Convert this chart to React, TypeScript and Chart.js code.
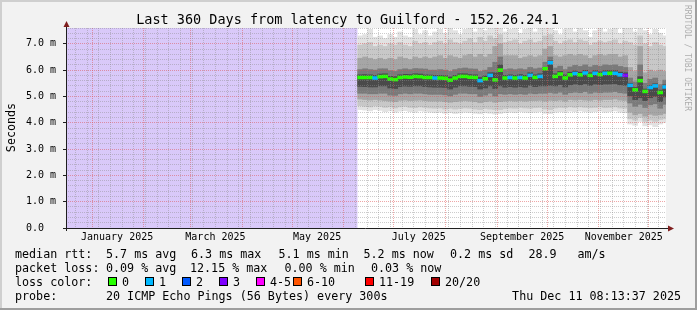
import { useEffect, useRef } from 'react';
import { Chart, registerables } from 'chart.js';

Chart.register(...registerables);

// ---------- time axis ----------
const DAY_MS = 86400000;
const GRAPH_END = Date.UTC(2025, 11, 11, 8, 13, 37);
const SPAN_DAYS = 360;
const GRAPH_START = GRAPH_END - SPAN_DAYS * DAY_MS;
const dayOf = (y: number, m: number, d: number) => (Date.UTC(y, m, d) - GRAPH_START) / DAY_MS;

const Y_MAX = 7.6;
const Y_STEP = 0.2;

// ---------- texts ----------
const titleText = 'Last 360 Days from latency to Guilford - 152.26.24.1';
const yAxisTitle = 'Seconds';
const watermarkText = 'RRDTOOL / TOBI OETIKER';
const yTickLabels = ['0.0  ', '1.0 m', '2.0 m', '3.0 m', '4.0 m', '5.0 m', '6.0 m', '7.0 m'];
const xLabelMonths: [number, number, string][] = [
  [2025, 0, 'January 2025'],
  [2025, 2, 'March 2025'],
  [2025, 4, 'May 2025'],
  [2025, 6, 'July 2025'],
  [2025, 8, 'September 2025'],
  [2025, 10, 'November 2025'],
];
const lossLabels = ['0', '1', '2', '3', '4-5', '6-10', '11-19', '20/20'];
const lossColors = ['#26ff00', '#00b8ff', '#0059ff', '#7e00ff', '#ff00ff', '#ff5500', '#ff0000', '#a10000'];
const rttStats = ['5.7 ms avg', '6.3 ms max', '5.1 ms min', '5.2 ms now', '0.2 ms sd', '28.9', 'am/s'];
const lossStats = ['0.09 % avg', '12.15 % max', '0.00 % min', '0.03 % now'];
const probeText = '20 ICMP Echo Pings (56 Bytes) every 300s';
const stampText = 'Thu Dec 11 08:13:37 2025';

// ---------- data (ms), one value per 3-day bucket ----------
const unknownSpan = [0, 175];
const bucketStartDay = 175;
const bucketDays = 3;

const median = [
  5.72, 5.72, 5.72, 5.70, 5.75, 5.76, 5.66, 5.64, 5.72, 5.74, 5.73, 5.76, 5.75, 5.72, 5.72,
  5.70, 5.70, 5.69, 5.62, 5.70, 5.76, 5.76, 5.73, 5.72, 5.60, 5.67, 5.80, 5.63, 6.00, 5.70, 5.72,
  5.70, 5.72, 5.70, 5.80, 5.72, 5.76, 6.05, 6.28, 5.76, 5.85, 5.70, 5.82, 5.87, 5.82, 5.89,
  5.80, 5.88, 5.83, 5.88, 5.88, 5.88, 5.82, 5.80, 5.42, 5.25, 5.60, 5.19, 5.34, 5.40, 5.15, 5.36,
];
const lossIndex = [
  0, 0, 0, 1, 0, 0, 0, 0, 0, 0, 0, 0, 0, 0, 0,
  1, 0, 0, 0, 0, 0, 0, 0, 0, 1, 0, 1, 0, 0, 0, 1,
  0, 1, 0, 1, 0, 1, 0, 1, 0, 0, 0, 0, 1, 0, 1,
  0, 1, 0, 1, 0, 1, 1, 3, 1, 0, 0, 0, 1, 1, 0, 1,
];
const smoke1High = [
  7.30, 7.35, 7.55, 7.25, 7.30, 7.20, 7.35, 7.25, 7.45, 7.30, 7.25, 7.55, 7.35, 7.50, 7.30,
  7.45, 7.55, 7.40, 7.60, 7.50, 7.35, 7.55, 7.60, 7.45, 7.60, 7.50, 7.60, 7.60, 7.60, 7.45, 7.55,
  7.60, 7.40, 7.55, 7.60, 7.45, 7.60, 7.60, 7.60, 7.50, 7.35, 7.55, 7.60, 7.45, 7.60, 7.50,
  7.25, 7.50, 7.60, 7.45, 7.55, 7.60, 7.40, 7.60, 7.60, 7.45, 7.60, 7.50, 7.35, 7.55, 7.40, 7.30,
];
const smoke1Low = [
  4.50, 4.48, 4.45, 4.50, 4.47, 4.42, 4.45, 4.40, 4.44, 4.46, 4.42, 4.40, 4.45, 4.43, 4.40,
  4.38, 4.40, 4.36, 4.38, 4.35, 4.37, 4.40, 4.38, 4.36, 4.34, 4.38, 4.36, 4.33, 4.35, 4.38, 4.40,
  4.38, 4.42, 4.40, 4.38, 4.40, 4.42, 4.36, 4.35, 4.40, 4.42, 4.40, 4.44, 4.42, 4.45, 4.42,
  4.40, 4.42, 4.44, 4.40, 4.42, 4.45, 4.40, 4.38, 3.95, 3.90, 4.05, 3.88, 3.92, 3.85, 3.95, 4.00,
];
const smoke2High = [
  6.95, 7.00, 7.05, 6.90, 6.95, 6.90, 7.00, 6.95, 7.05, 6.95, 6.90, 7.10, 7.00, 7.05, 6.95,
  7.05, 7.10, 7.00, 7.15, 7.05, 7.00, 7.10, 7.20, 7.05, 7.25, 7.10, 7.30, 7.20, 7.35, 7.05, 7.10,
  7.15, 7.00, 7.10, 7.15, 7.05, 7.10, 7.30, 7.35, 7.10, 7.00, 7.10, 7.15, 7.05, 7.15, 7.10,
  6.95, 7.05, 7.10, 7.05, 7.10, 7.15, 7.00, 7.10, 7.05, 6.95, 7.30, 7.00, 6.90, 7.05, 6.95, 6.90,
];
const smoke2Low = [
  4.65, 4.62, 4.60, 4.64, 4.62, 4.58, 4.60, 4.56, 4.60, 4.62, 4.58, 4.57, 4.60, 4.58, 4.56,
  4.55, 4.56, 4.52, 4.55, 4.52, 4.54, 4.56, 4.55, 4.52, 4.50, 4.54, 4.52, 4.50, 4.50, 4.54, 4.56,
  4.55, 4.58, 4.56, 4.55, 4.57, 4.58, 4.52, 4.50, 4.56, 4.58, 4.57, 4.60, 4.58, 4.60, 4.58,
  4.57, 4.58, 4.60, 4.57, 4.58, 4.60, 4.56, 4.55, 4.15, 4.10, 4.20, 4.05, 4.10, 4.05, 4.12, 4.15,
];
const smoke3High = [
  6.45, 6.50, 6.45, 6.40, 6.45, 6.40, 6.45, 6.40, 6.50, 6.45, 6.40, 6.50, 6.45, 6.50, 6.45,
  6.50, 6.55, 6.45, 6.55, 6.50, 6.45, 6.55, 6.60, 6.50, 6.60, 6.50, 6.60, 6.90, 7.00, 6.55, 6.55,
  6.55, 6.45, 6.50, 6.55, 6.50, 6.55, 6.80, 6.90, 6.55, 6.50, 6.55, 6.60, 6.55, 6.60, 6.55,
  6.45, 6.55, 6.60, 6.55, 6.60, 6.60, 6.50, 6.55, 6.10, 5.95, 6.90, 5.90, 6.00, 5.95, 6.00, 5.95,
];
const smoke3Low = [
  4.90, 4.88, 4.86, 4.88, 4.86, 4.84, 4.82, 4.80, 4.85, 4.86, 4.84, 4.85, 4.86, 4.84, 4.82,
  4.82, 4.82, 4.80, 4.78, 4.80, 4.82, 4.84, 4.82, 4.80, 4.76, 4.80, 4.82, 4.78, 4.80, 4.82, 4.84,
  4.82, 4.84, 4.82, 4.84, 4.84, 4.85, 4.82, 4.85, 4.84, 4.86, 4.82, 4.88, 4.86, 4.88, 4.86,
  4.85, 4.88, 4.86, 4.88, 4.88, 4.90, 4.86, 4.85, 4.40, 4.30, 4.35, 4.25, 4.32, 4.28, 4.30, 4.35,
];
const smoke4High = [
  6.02, 6.05, 6.02, 6.00, 6.05, 6.05, 5.98, 5.95, 6.02, 6.05, 6.02, 6.06, 6.05, 6.04, 6.00,
  6.00, 6.02, 6.00, 5.95, 6.02, 6.06, 6.08, 6.05, 6.04, 5.95, 6.00, 6.10, 6.30, 6.50, 6.02, 6.05,
  6.02, 6.05, 6.02, 6.10, 6.05, 6.08, 6.30, 6.50, 6.08, 6.15, 6.02, 6.12, 6.18, 6.14, 6.20,
  6.12, 6.18, 6.15, 6.20, 6.18, 6.20, 6.14, 6.10, 5.70, 5.55, 6.20, 5.50, 5.65, 5.70, 5.45, 5.62,
];
const smoke4Low = [
  5.12, 5.12, 5.10, 5.10, 5.12, 5.12, 5.05, 5.04, 5.10, 5.12, 5.10, 5.12, 5.12, 5.10, 5.08,
  5.08, 5.08, 5.06, 5.02, 5.08, 5.12, 5.12, 5.10, 5.10, 5.00, 5.05, 5.12, 5.02, 5.10, 5.08, 5.10,
  5.08, 5.10, 5.08, 5.12, 5.10, 5.12, 5.12, 5.15, 5.12, 5.16, 5.08, 5.14, 5.16, 5.14, 5.18,
  5.12, 5.16, 5.14, 5.16, 5.16, 5.18, 5.14, 5.12, 4.75, 4.62, 4.70, 4.58, 4.68, 4.72, 4.55, 4.70,
];
const smoke5High = [
  5.82, 5.83, 5.82, 5.80, 5.85, 5.86, 5.76, 5.75, 5.82, 5.84, 5.83, 5.86, 5.85, 5.82, 5.81,
  5.80, 5.80, 5.79, 5.74, 5.80, 5.86, 5.86, 5.83, 5.82, 5.72, 5.78, 5.90, 5.90, 6.20, 5.80, 5.82,
  5.80, 5.83, 5.80, 5.90, 5.82, 5.86, 6.10, 6.35, 5.86, 5.95, 5.82, 5.92, 5.97, 5.92, 5.99,
  5.90, 5.98, 5.93, 5.98, 5.98, 5.98, 5.92, 5.90, 5.50, 5.34, 5.75, 5.28, 5.42, 5.48, 5.24, 5.44,
];
const smoke5Low = [
  5.38, 5.37, 5.36, 5.36, 5.40, 5.40, 5.32, 5.30, 5.37, 5.39, 5.38, 5.40, 5.40, 5.37, 5.36,
  5.35, 5.35, 5.34, 5.28, 5.35, 5.40, 5.40, 5.38, 5.37, 5.28, 5.32, 5.40, 5.30, 5.40, 5.35, 5.37,
  5.35, 5.37, 5.35, 5.42, 5.37, 5.40, 5.40, 5.42, 5.40, 5.45, 5.36, 5.44, 5.47, 5.44, 5.48,
  5.42, 5.47, 5.45, 5.47, 5.47, 5.48, 5.44, 5.42, 5.02, 4.88, 4.95, 4.84, 4.95, 5.00, 4.80, 4.98,
];

// ---------- styles ----------
const MONO = 'DejaVu Sans Mono';
const BACK = '#f2f2f2';
const CANVAS = '#ffffff';
const SHADEA = '#cfcfcf';
const SHADEB = '#9e9e9e';
const GRID = 'rgba(143,143,143,0.45)';
const MGRID = 'rgba(222,79,79,0.5)';
const ARROW = '#801f1f';
const AXIS = '#1f1f1f';
const UNKNOWN_COLOR = '#d9c9f9';
const smokeColors = ['#e2e2e2', '#c8c8c8', '#a6a6a6', '#7a7a7a', '#4a4a4a'];
const MEDIAN_HALF = 0.055;

type XTick = { value: number; grid: 'minor' | 'major' | 'none'; label: string };
function buildXTicks(): XTick[] {
  const map = new Map<string, XTick>();
  const put = (value: number, grid: XTick['grid'], label: string) => {
    const key = value.toFixed(3);
    const t = map.get(key) || { value, grid: 'none' as XTick['grid'], label: '' };
    if (grid === 'major' || (grid === 'minor' && t.grid === 'none')) t.grid = grid;
    if (label) t.label = label;
    map.set(key, t);
  };
  for (let d = dayOf(2024, 11, 22); d < SPAN_DAYS; d += 7) put(d, 'minor', '');
  for (let m = 0; m < 12; m++) put(dayOf(2025, m, 1), 'major', '');
  xLabelMonths.forEach(([y, m, text]) => put(dayOf(y, m, 16), 'none', text));
  return [...map.values()].sort((a, b) => a.value - b.value);
}

function drawText(ctx: CanvasRenderingContext2D, s: string, x: number, y: number, size: number, align: CanvasTextAlign = 'left', color = '#000') {
  ctx.font = `${size}px "${MONO}"`;
  ctx.fillStyle = color;
  ctx.textAlign = align;
  ctx.textBaseline = 'alphabetic';
  ctx.fillText(s, x, y);
}

const LEG = 11.7;
const rrdPlugin = {
  id: 'rrdFrame',
  beforeDraw(chart: any) {
    const { ctx, chartArea: a, width, height } = chart;
    ctx.save();
    ctx.fillStyle = BACK;
    ctx.fillRect(0, 0, width, height);
    ctx.fillStyle = SHADEA;
    ctx.fillRect(0, 0, width, 2);
    ctx.fillRect(0, 0, 2, height);
    ctx.fillStyle = SHADEB;
    ctx.fillRect(0, height - 2, width, 2);
    ctx.fillRect(width - 2, 0, 2, height);
    ctx.fillStyle = CANVAS;
    ctx.fillRect(a.left, a.top, a.right - a.left, a.bottom - a.top);
    ctx.restore();
  },
  afterDraw(chart: any) {
    const { ctx, chartArea: a } = chart;
    ctx.save();
    ctx.strokeStyle = AXIS;
    ctx.lineWidth = 1;
    ctx.setLineDash([]);
    ctx.beginPath();
    ctx.moveTo(a.left - 3, a.bottom + 0.5);
    ctx.lineTo(a.right + 2, a.bottom + 0.5);
    ctx.moveTo(a.left + 0.5, a.bottom + 3);
    ctx.lineTo(a.left + 0.5, a.top - 2);
    ctx.stroke();
    ctx.fillStyle = ARROW;
    ctx.beginPath();
    ctx.moveTo(a.right + 8, a.bottom + 0.5);
    ctx.lineTo(a.right + 2, a.bottom - 2.5);
    ctx.lineTo(a.right + 2, a.bottom + 3.5);
    ctx.closePath();
    ctx.fill();
    ctx.beginPath();
    ctx.moveTo(a.left + 0.5, a.top - 7);
    ctx.lineTo(a.left - 2.5, a.top - 1);
    ctx.lineTo(a.left + 3.5, a.top - 1);
    ctx.closePath();
    ctx.fill();

    drawText(ctx, titleText, 347.5, 24, 13.5, 'center');
    ctx.save();
    ctx.translate(15, 127.5);
    ctx.rotate(-Math.PI / 2);
    drawText(ctx, yAxisTitle, 0, 0, LEG, 'center');
    ctx.restore();
    ctx.save();
    ctx.translate(685, 5);
    ctx.rotate(Math.PI / 2);
    drawText(ctx, watermarkText, 0, 0, 8, 'left', 'rgba(0,0,0,0.3)');
    ctx.restore();

    const r1 = 257.5, r2 = 271.5, r3 = 285.5, r4 = 299.5;
    drawText(ctx, 'median rtt:', 15, r1, LEG);
    const rttX = [106, 191, 278.5, 363.5, 450, 528.5, 577.5];
    rttStats.forEach((s, i) => drawText(ctx, s, rttX[i], r1, LEG));
    drawText(ctx, 'packet loss:', 15, r2, LEG);
    const lossX = [106, 190, 284.5, 371];
    lossStats.forEach((s, i) => drawText(ctx, s, lossX[i], r2, LEG));
    drawText(ctx, 'loss color:', 15, r3, LEG);
    const boxX = [108, 145, 182, 219, 256, 293, 365, 431];
    lossLabels.forEach((s, i) => {
      ctx.fillStyle = lossColors[i];
      ctx.fillRect(boxX[i], 277, 9, 9);
      ctx.strokeStyle = '#000';
      ctx.lineWidth = 1;
      ctx.strokeRect(boxX[i] + 0.5, 277.5, 8, 8);
      drawText(ctx, s, boxX[i] + 14, r3, LEG);
    });
    drawText(ctx, 'probe:', 15, r4, LEG);
    drawText(ctx, probeText, 106, r4, LEG);
    drawText(ctx, stampText, 681, r4, LEG, 'right');
    ctx.restore();
  },
};

export default function App() {
  const ref = useRef<HTMLCanvasElement>(null);

  useEffect(() => {
    const canvas = ref.current;
    if (!canvas) return;
    const xTicks = buildXTicks();
    const yTicks = Array.from({ length: Math.round(Y_MAX / Y_STEP) + 1 }, (_, k) => k / 5);
    const centers = median.map((_, i) => bucketStartDay + bucketDays * (i + 0.5));
    const layers = [
      [smoke1Low, smoke1High],
      [smoke2Low, smoke2High],
      [smoke3Low, smoke3High],
      [smoke4Low, smoke4High],
      [smoke5Low, smoke5High],
    ];

    const smokeSets = layers.map(([lo, hi], li) => ({
      type: 'bar' as const,
      xAxisID: 'xd',
      data: lo.map((v, i) => ({ x: centers[i], y: [v, hi[i]] })),
      backgroundColor: smokeColors[li],
      borderWidth: 0,
      grouped: false,
      barPercentage: 1,
      categoryPercentage: 1,
      order: 10 - li,
    }));

    const medianSet = {
      type: 'bar' as const,
      xAxisID: 'xd',
      data: median.map((m, i) => ({ x: centers[i], y: [m - MEDIAN_HALF, m + MEDIAN_HALF] })),
      backgroundColor: lossIndex.map((k) => lossColors[k]),
      borderWidth: 0,
      grouped: false,
      barPercentage: 1,
      categoryPercentage: 1,
      order: 1,
    };

    const unknownSet = {
      type: 'line' as const,
      xAxisID: 'xd',
      data: [
        { x: unknownSpan[0], y: Y_MAX },
        { x: unknownSpan[1], y: Y_MAX },
      ],
      borderColor: 'transparent',
      borderWidth: 0,
      backgroundColor: UNKNOWN_COLOR,
      fill: 'origin',
      pointRadius: 0,
      order: 20,
    };

    const font = { family: MONO, size: 10 };

    const chart = new Chart(canvas, {
      type: 'bar',
      data: { datasets: [unknownSet, ...smokeSets, medianSet] as any },
      plugins: [rrdPlugin],
      options: {
        responsive: false,
        animation: false,
        events: [],
        layout: { padding: { top: 28, right: 31, left: 0, bottom: 0 } },
        plugins: {
          legend: { display: false },
          tooltip: { enabled: false },
          title: { display: false },
        },
        scales: {
          xd: {
            type: 'linear',
            display: false,
            min: 0,
            max: SPAN_DAYS,
            offset: false,
            grid: { offset: false },
          },
          x: {
            type: 'linear',
            position: 'bottom',
            min: 0,
            max: SPAN_DAYS,
            offset: false,
            afterBuildTicks: (s: any) => {
              s.ticks = xTicks.map((t) => ({ value: t.value }));
            },
            afterFit: (s: any) => {
              s.height = 82;
            },
            grid: {
              z: 1,
              offset: false,
              drawTicks: false,
              lineWidth: 1,
              color: (c: any) => {
                const t = xTicks[c.index];
                if (!t) return 'transparent';
                return t.grid === 'major' ? MGRID : t.grid === 'minor' ? GRID : 'transparent';
              },
            },
            border: { display: false, dash: [1, 1] },
            ticks: {
              autoSkip: false,
              maxRotation: 0,
              minRotation: 0,
              padding: 3,
              color: '#000',
              font,
              callback: (_v: any, i: number) => (xTicks[i] ? xTicks[i].label : ''),
            },
          },
          y: {
            type: 'linear',
            min: 0,
            max: Y_MAX,
            afterBuildTicks: (s: any) => {
              s.ticks = yTicks.map((v) => ({ value: v }));
            },
            afterFit: (s: any) => {
              s.width = 66;
            },
            grid: {
              z: 1,
              lineWidth: 1,
              drawTicks: true,
              tickLength: 3,
              color: (c: any) => {
                const v = c.tick ? c.tick.value : 0;
                const k = Math.round(v / Y_STEP);
                if (k === 0) return 'transparent';
                return k % 5 === 0 ? MGRID : GRID;
              },
              tickColor: (c: any) => {
                const v = c.tick ? c.tick.value : 0;
                const k = Math.round(v / Y_STEP);
                return k % 5 === 0 ? AXIS : 'transparent';
              },
            },
            border: { display: false, dash: [1, 1] },
            ticks: {
              autoSkip: false,
              padding: 7,
              color: '#000',
              font,
              callback: (v: any) => {
                const k = Math.round(Number(v) / Y_STEP);
                return k % 5 === 0 ? yTickLabels[k / 5] ?? '' : '';
              },
            },
          },
        },
      } as any,
    });
    return () => chart.destroy();
  }, []);

  return (
    <div style={{ position: 'absolute', left: 0, top: 0, width: 697, height: 310 }}>
      <canvas ref={ref} width={697} height={310} style={{ display: 'block', width: 697, height: 310 }} />
    </div>
  );
}
